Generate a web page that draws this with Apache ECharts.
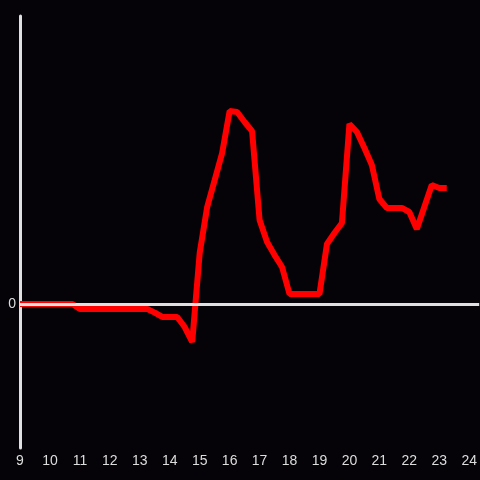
<!DOCTYPE html>
<html>
<head>
<meta charset="utf-8">
<script src="https://cdn.jsdelivr.net/npm/echarts@6/dist/echarts.min.js"></script>
<style>
html, body { margin: 0; padding: 0; background: #050307; }
#main { width: 480px; height: 480px; }
</style>
</head>
<body>
<div id="main"></div>
<script>
// time of day (hours), every 15 minutes
var hours = [];
for (var h = 9; h <= 23.25; h += 0.25) {
	hours.push(h);
}
// values
var values = [
	0, 0, 0, 0, 0, 0, 0, 0,                      // 9:00 - 10:45
	-0.35, -0.35, -0.35, -0.35, -0.35, -0.35, -0.35, -0.35, -0.35, -0.35, // 11:00 - 13:15
	-0.6, -0.9, -0.9, -0.9, -1.6, -2.64,        // 13:30 - 14:45
	3.54, 6.74, 8.6, 10.49,                      // 15:00 - 15:45
	13.4, 13.33, 12.64, 12.0,                    // 16:00 - 16:45
	5.83, 4.3, 3.4, 2.57,                        // 17:00 - 17:45
	0.69, 0.69, 0.69, 0.69,                      // 18:00 - 18:45
	0.69, 4.17, 4.93, 5.63,                      // 19:00 - 19:45
	12.5, 11.94, 10.83, 9.65,                    // 20:00 - 20:45
	7.29, 6.67, 6.67, 6.67,                      // 21:00 - 21:45
	6.39, 5.21, 6.74, 8.26,                      // 22:00 - 22:45
	8.06, 8.06                                   // 23:00 - 23:15
];
var xTicks = [9, 10, 11, 12, 13, 14, 15, 16, 17, 18, 19, 20, 21, 22, 23, 24];

var points = [];
for (var i = 0; i < values.length; i++) {
	points.push([hours[i], values[i]]);
}

var myChart = echarts.init(document.getElementById('main'));
var option = {
	backgroundColor: '#050307',
	animation: false,
	grid: { left: 20, right: 0, top: 16, bottom: 32 },
	xAxis: {
		type: 'value',
		min: 9,
		max: 9 + 460 / 30,
		interval: 1,
		axisLine: { show: false },
		axisTick: { show: false },
		splitLine: { show: false },
		axisLabel: {
			color: '#dddddd',
			fontSize: 14,
			margin: 6,
			showMaxLabel: false,
			formatter: function (v) {
				return xTicks.indexOf(v) >= 0 ? String(v) : '';
			}
		}
	},
	yAxis: {
		type: 'value',
		min: -10,
		max: 20,
		interval: 10,
		axisLine: { show: true, lineStyle: { color: '#e0e0e0', width: 3 } },
		axisTick: { show: false },
		splitLine: { show: false },
		axisLabel: {
			color: '#dddddd',
			fontSize: 14,
			margin: 4,
			formatter: function (v) {
				return v === 0 ? '0' : '';
			}
		}
	},
	series: [{
		type: 'line',
		data: points,
		symbol: 'none',
		lineStyle: { color: '#ff0000', width: 6 },
		markLine: {
			silent: true,
			symbol: 'none',
			label: { show: false },
			lineStyle: { color: '#e0e0e0', width: 3, type: 'solid' },
			data: [{ yAxis: 0 }]
		}
	}]
};
myChart.setOption(option);
</script>
</body>
</html>
